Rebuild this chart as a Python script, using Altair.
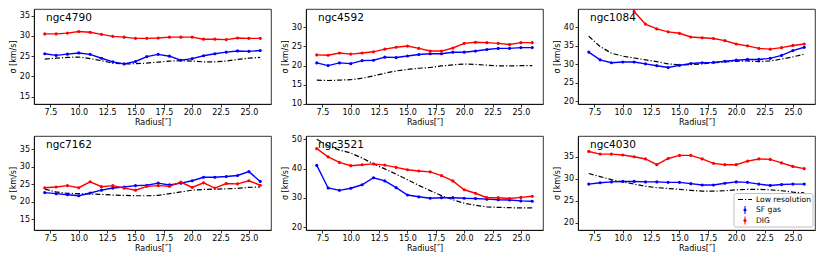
import altair as alt
import pandas as pd

radius = list(range(7, 27))
x_ticks = [7.5, 10.0, 12.5, 15.0, 17.5, 20.0, 22.5, 25.0]

galaxies = ["ngc4790", "ngc4592", "ngc1084", "ngc7162", "ngc3521", "ngc4030"]

sf_ngc4790 = [25.6, 25.2, 25.5, 25.8, 25.45, 24.5, 23.6, 23.1, 23.7, 24.9, 25.45, 25.0, 24.0, 24.4, 25.1, 25.6, 26.0, 26.3, 26.2, 26.4]
dig_ngc4790 = [30.5, 30.5, 30.7, 31.1, 30.9, 30.4, 29.9, 29.7, 29.4, 29.4, 29.5, 29.7, 29.7, 29.7, 29.2, 29.2, 29.1, 29.5, 29.4, 29.4]
low_ngc4790 = [24.3, 24.5, 24.7, 24.8, 24.4, 23.9, 23.3, 23.1, 23.15, 23.3, 23.55, 23.8, 23.9, 23.8, 23.6, 23.6, 23.8, 24.2, 24.5, 24.7]

sf_ngc4592 = [20.7, 20.0, 20.7, 20.5, 21.3, 21.4, 22.2, 22.1, 22.5, 22.9, 23.1, 23.1, 23.5, 23.5, 23.8, 24.2, 24.5, 24.5, 24.7, 24.7]
dig_ngc4592 = [22.8, 22.7, 23.3, 23.0, 23.3, 23.6, 24.3, 24.8, 25.1, 24.5, 23.8, 23.8, 24.6, 25.8, 26.1, 26.0, 25.8, 25.5, 26.0, 26.0]
low_ngc4592 = [16.2, 16.1, 16.2, 16.3, 16.7, 17.3, 18.0, 18.6, 19.0, 19.3, 19.5, 19.9, 20.2, 20.4, 20.3, 20.1, 19.9, 19.9, 20.0, 20.0]

sf_ngc1084 = [33.3, 31.2, 30.4, 30.6, 30.6, 30.1, 29.6, 29.1, 29.7, 30.2, 30.4, 30.5, 30.8, 31.1, 31.3, 31.3, 31.6, 32.4, 33.7, 34.6]
dig_ngc1084 = [68.0, 66.0, 64.0, 60.0, 44.3, 40.9, 39.6, 38.8, 38.4, 37.4, 37.2, 37.0, 36.4, 35.5, 35.0, 34.3, 34.1, 34.5, 35.1, 35.5]
low_ngc1084 = [37.6, 34.8, 33.0, 32.2, 31.7, 31.2, 30.7, 30.1, 29.8, 29.9, 30.1, 30.4, 30.6, 30.8, 30.9, 30.7, 30.9, 31.4, 32.0, 32.7]

sf_ngc7162 = [22.6, 22.3, 22.0, 21.7, 22.5, 23.3, 23.9, 24.2, 24.6, 24.7, 25.3, 24.8, 25.3, 26.0, 27.0, 27.0, 27.2, 27.5, 28.6, 25.8]
dig_ngc7162 = [24.0, 24.2, 24.6, 24.0, 25.7, 24.3, 24.6, 23.9, 23.3, 24.4, 24.6, 24.4, 25.6, 24.1, 25.4, 23.9, 25.2, 25.1, 26.0, 24.7]
low_ngc7162 = [23.6, 22.8, 22.4, 22.3, 22.2, 22.1, 21.9, 21.8, 21.7, 21.7, 21.8, 22.3, 22.8, 23.3, 23.5, 23.6, 23.7, 23.8, 24.1, 24.2]

sf_ngc3521 = [41.1, 33.4, 32.6, 33.3, 34.5, 36.9, 35.8, 33.5, 31.0, 30.4, 29.9, 30.1, 30.1, 29.9, 29.8, 29.6, 29.4, 29.3, 29.0, 28.9]
dig_ngc3521 = [46.8, 44.0, 42.1, 41.0, 41.3, 41.6, 41.2, 40.4, 39.6, 39.2, 38.9, 37.6, 35.8, 32.8, 31.6, 30.1, 30.1, 29.8, 30.2, 30.6]
low_ngc3521 = [50.0, 47.8, 46.3, 45.3, 43.6, 41.6, 39.9, 38.1, 36.2, 34.3, 32.5, 30.8, 29.4, 28.2, 27.5, 27.0, 26.8, 26.7, 26.6, 26.6]

sf_ngc4030 = [28.8, 29.1, 29.3, 29.4, 29.4, 29.3, 29.3, 29.2, 29.2, 28.9, 28.6, 28.6, 29.0, 29.3, 29.2, 28.8, 28.5, 28.7, 28.8, 28.8]
dig_ngc4030 = [36.2, 35.6, 35.6, 35.4, 35.0, 34.5, 33.2, 34.6, 35.3, 35.3, 34.5, 33.5, 33.2, 33.2, 34.0, 34.5, 34.4, 33.6, 32.8, 32.3]
low_ngc4030 = [31.2, 30.5, 29.8, 29.3, 28.8, 28.3, 28.0, 27.8, 27.6, 27.4, 27.2, 27.2, 27.3, 27.5, 27.6, 27.6, 27.5, 27.3, 27.0, 26.8]

y_domains = [[13.2, 36.65], [9.95, 34.8], [19.2, 45.0], [11.9, 38.8], [19.1, 51.1], [18.4, 39.7]]
y_ticks = [[15, 20, 25, 30, 35], [10, 15, 20, 25, 30], [20, 25, 30, 35, 40],
           [15, 20, 25, 30, 35], [20, 30, 40, 50], [20, 25, 30, 35]]

series = {
    "ngc4790": (sf_ngc4790, dig_ngc4790, low_ngc4790),
    "ngc4592": (sf_ngc4592, dig_ngc4592, low_ngc4592),
    "ngc1084": (sf_ngc1084, dig_ngc1084, low_ngc1084),
    "ngc7162": (sf_ngc7162, dig_ngc7162, low_ngc7162),
    "ngc3521": (sf_ngc3521, dig_ngc3521, low_ngc3521),
    "ngc4030": (sf_ngc4030, dig_ngc4030, low_ngc4030),
}

W = 237
HEIGHTS = [95, 95, 95, 94, 94, 94]
FONT = "DejaVu Sans"
BLUE = "#0000ff"
RED = "#ff0000"
DASH = [5, 2, 1.2, 2]


def panel(i):
    name = galaxies[i]
    sf, dig, low = series[name]
    h = HEIGHTS[i]
    x = alt.X("r:Q", scale=alt.Scale(domain=[6.05, 26.95], nice=False, zero=False),
              axis=alt.Axis(values=x_ticks, format=".1f", title="Radius[″]"))
    y = alt.Y("v:Q", scale=alt.Scale(domain=y_domains[i], nice=False, zero=False),
              axis=alt.Axis(values=y_ticks[i], title="σ [km/s]"))

    low_df = pd.DataFrame({"r": radius, "v": low})
    sf_df = pd.DataFrame({"r": radius, "v": sf})
    dig_df = pd.DataFrame({"r": radius, "v": dig})

    layers = [
        alt.Chart(low_df).mark_line(color="black", strokeWidth=1.2, strokeDash=DASH, clip=True).encode(x=x, y=y),
        alt.Chart(sf_df).mark_line(color=BLUE, strokeWidth=1.4, clip=True).encode(x=x, y=y),
        alt.Chart(sf_df).mark_point(color=BLUE, filled=True, size=10, opacity=1, clip=True).encode(x=x, y=y),
        alt.Chart(dig_df).mark_line(color=RED, strokeWidth=1.4, clip=True).encode(x=x, y=y),
        alt.Chart(dig_df).mark_point(color=RED, filled=True, size=10, opacity=1, clip=True).encode(x=x, y=y),
        alt.Chart(pd.DataFrame({"name": [name]})).mark_text(
            align="left", baseline="middle", fontSize=10.5, font=FONT, color="black"
        ).encode(text="name:N", x=alt.value(12), y=alt.value(9)),
    ]

    if i == 5:
        one = pd.DataFrame({"a": [0]})
        bx = W - 81
        layers += [
            alt.Chart(one).mark_rect(fill="white", opacity=0.9, stroke="#aaaaaa", strokeWidth=0.8, cornerRadius=2).encode(
                x=alt.value(bx), x2=alt.value(W - 2), y=alt.value(57.5), y2=alt.value(91)),
            alt.Chart(one).mark_rule(color="black", strokeWidth=1.2, strokeDash=DASH).encode(
                x=alt.value(bx + 4), x2=alt.value(bx + 18), y=alt.value(63.5)),
            alt.Chart(one).mark_rule(color=BLUE, strokeWidth=1).encode(
                x=alt.value(bx + 11), y=alt.value(70), y2=alt.value(78)),
            alt.Chart(one).mark_point(color=BLUE, filled=True, size=10, opacity=1).encode(
                x=alt.value(bx + 11), y=alt.value(74)),
            alt.Chart(one).mark_rule(color=RED, strokeWidth=1).encode(
                x=alt.value(bx + 11), y=alt.value(80.5), y2=alt.value(88.5)),
            alt.Chart(one).mark_point(color=RED, filled=True, size=10, opacity=1).encode(
                x=alt.value(bx + 11), y=alt.value(84.5)),
        ]
        for label, yy in [("Low resolution", 63.5), ("SF gas", 74), ("DIG", 84.5)]:
            layers.append(
                alt.Chart(one).mark_text(text=label, align="left", baseline="middle", fontSize=7.6,
                                         font=FONT, color="black").encode(x=alt.value(bx + 22), y=alt.value(yy)))

    return alt.layer(*layers).properties(width=W, height=h)


chart = alt.concat(*[panel(i) for i in range(6)], columns=3,
                   spacing={"row": 32, "column": 35}, bounds="flush").properties(
    padding=0, background="white"
).configure_view(
    stroke="black", strokeWidth=0.8
).configure_axis(
    grid=False,
    domainColor="black", domainWidth=0.8,
    tickColor="black", tickWidth=0.8, tickSize=3,
    labelFont=FONT, labelFontSize=8, labelColor="black", labelPadding=1.5,
    titleFont=FONT, titleFontSize=8, titleFontWeight="normal", titleColor="black", titlePadding=2,
)

chart.save("out.html", embed_options={"renderer": "svg", "actions": False})
